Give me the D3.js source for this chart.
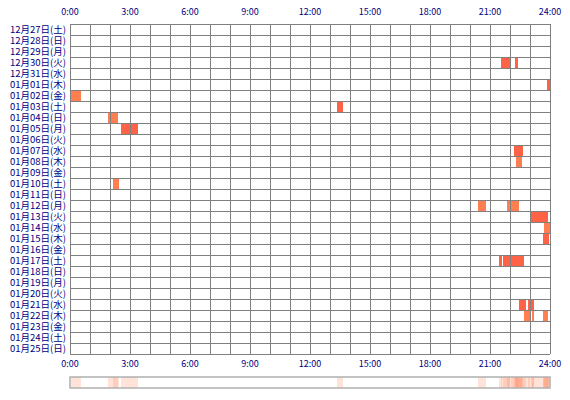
<!DOCTYPE html>
<html><head><meta charset="utf-8">
<script src="https://cdn.jsdelivr.net/npm/d3@7"></script>
<style>body{margin:0;background:#fff}text{font-family:"Noto Sans CJK JP",sans-serif;fill:#000080}</style>
</head><body><svg id="c" width="570" height="400"></svg>
<script>
// day labels, top to bottom
const days = ["12月27日(土)","12月28日(日)","12月29日(月)","12月30日(火)","12月31日(水)","01月01日(木)","01月02日(金)","01月03日(土)","01月04日(日)","01月05日(月)","01月06日(火)","01月07日(水)","01月08日(木)","01月09日(金)","01月10日(土)","01月11日(日)","01月12日(月)","01月13日(火)","01月14日(水)","01月15日(木)","01月16日(金)","01月17日(土)","01月18日(日)","01月19日(月)","01月20日(火)","01月21日(水)","01月22日(木)","01月23日(金)","01月24日(土)","01月25日(日)"];
const hourTicks = [0,3,6,9,12,15,18,21,24];
// sessions: [day index, start hour, end hour, kind]
const sessions = [
  [3,21.55,22.0,1],[3,22.25,22.4,1],[5,23.85,24,1],[6,0.05,0.55,0],[7,13.35,13.65,1],
  [8,1.9,2.4,0],[9,2.55,3.4,1],[11,22.2,22.65,1],[12,22.3,22.6,0],[14,2.15,2.45,0],
  [16,20.4,20.8,0],[16,21.85,22.45,0],[17,23.05,23.9,1],[18,23.7,24,0],[19,23.65,23.95,1],
  [21,21.45,21.6,1],[21,21.65,22.0,1],[21,22.05,22.7,1],[25,22.45,22.8,1],[25,22.9,23.2,1],
  [26,22.7,23.0,0],[26,23.1,23.2,0],[26,23.65,23.9,0]
];

const svg = d3.select("#c");
const x = d3.scaleLinear().domain([0,24]).range([70,550]);
const y = d3.scaleBand().domain(days).range([24,354]);
const color = d3.scaleOrdinal().domain([0,1]).range(["#ff7f50","#ff6347"]);

svg.selectAll(".bar").data(sessions).enter().append("rect")
  .attr("x", d => x(d[1])).attr("width", d => x(d[2]) - x(d[1]))
  .attr("y", d => y(days[d[0]])).attr("height", y.bandwidth())
  .attr("fill", d => color(d[3]));

const g = svg.append("g").attr("stroke","#808080").attr("shape-rendering","crispEdges");
d3.range(25).forEach(h => g.append("line").attr("x1",x(h)).attr("x2",x(h)).attr("y1",24).attr("y2",354));
d3.range(days.length+1).forEach(i => {
  const yy = 24 + i*y.step();
  g.append("line").attr("x1",70).attr("x2",550).attr("y1",yy).attr("y2",yy);
});

svg.selectAll(".dl").data(days).enter().append("text")
  .attr("x",66).attr("y", d => y(d) + y.bandwidth()/2 + 3.5)
  .attr("text-anchor","end").attr("font-size",9.5).text(d => d);

[15,367].forEach(ty => svg.selectAll(null).data(hourTicks).enter().append("text")
  .attr("x", d => x(d)).attr("y", ty).attr("text-anchor","middle").attr("font-size",9)
  .text(d => d + ":00"));

// density strip
svg.selectAll(".st").data(sessions).enter().append("rect")
  .attr("x", d => x(d[1])).attr("width", d => x(d[2]) - x(d[1]))
  .attr("y",377).attr("height",11).attr("fill","#ff7f50").attr("opacity",0.22);
svg.append("rect").attr("x",70).attr("y",377).attr("width",480).attr("height",11)
  .attr("fill","none").attr("stroke","#b0b0b0").attr("stroke-width",1.5);
</script></body></html>
